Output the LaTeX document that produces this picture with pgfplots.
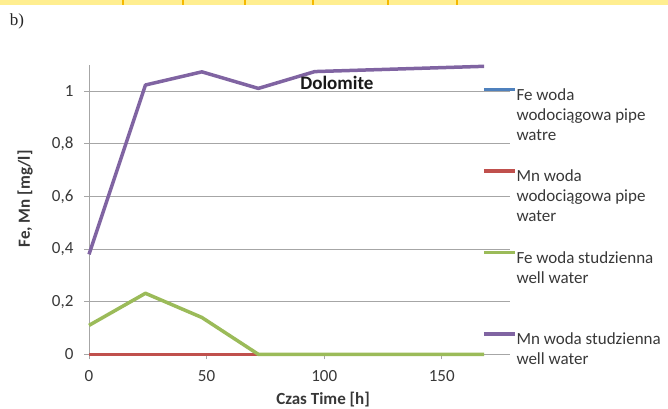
\documentclass[border=0pt]{standalone}
\usepackage{fontspec}
\setmainfont{Carlito}
\newfontfamily\timesfont{Liberation Serif}
\usepackage{pgfplots}
\pgfplotsset{compat=1.18}
\definecolor{xlblue}{HTML}{4F81BD}
\definecolor{xlred}{HTML}{C0504D}
\definecolor{xlgreen}{HTML}{9BBB59}
\definecolor{xlpurple}{HTML}{8064A2}
\definecolor{bandyellow}{HTML}{FFEE90}
\definecolor{bandorange}{HTML}{F5B800}
\definecolor{gridgray}{HTML}{A6A6A6}
\definecolor{txtgray}{HTML}{383838}
\begin{document}
\begin{tikzpicture}
\useasboundingbox (0pt,0pt) rectangle (668pt,-408pt);
\fill[bandyellow] (0pt,0pt) rectangle (668pt,-5pt);
\foreach \x in {123,183,245,313,388,457} \fill[bandorange] (\x pt-1pt,0pt) rectangle (\x pt+1pt,-5pt);
\node[font=\timesfont\fontsize{17}{20}\selectfont, text=black!85] at (17pt,-21pt) {b)};
\begin{axis}[
  scale only axis, width=421pt, height=289.3pt,
  at={(89pt,-354.3pt)}, anchor=south west,
  xmin=0, xmax=179, ymin=0, ymax=1.1,
  clip=false,
  axis lines=left,
  axis line style={-, gridgray, line width=1pt},
  xtick={0,50,100,150},
  ytick={0,0.2,0.4,0.6,0.8,1},
  ymajorgrids,
  grid style={gridgray, line width=0.9pt},
  tick align=outside, major tick length=5pt,
  tick style={gridgray, line width=0.9pt},
  /pgf/number format/assume math mode=true,
  yticklabel style={/pgf/number format/fixed, /pgf/number format/use comma, /pgf/number format/precision=1, /pgf/number format/assume math mode=true, xshift=-7pt},
  xticklabel style={yshift=-8pt},
  tick label style={font=\fontsize{17}{20}\selectfont, text=txtgray},
  xlabel={Czas Time [h]},
  ylabel={Fe, Mn [mg/l]},
  label style={font=\bfseries\fontsize{17}{20}\selectfont, text=txtgray},
  xlabel style={at={(axis description cs:0.556,-0.158)}, anchor=center},
  ylabel style={at={(axis description cs:-0.152,0.537)}, anchor=center, rotate=0},
  legend cell align=left,
  legend style={draw=none, fill=none, inner sep=0pt, outer sep=0pt,
    at={(axis description cs:0.9335,0.9206)}, anchor=north west,
    font=\fontsize{17}{20}\selectfont, text=txtgray,
    row sep=67.6pt, column sep=0pt,
    nodes={inner sep=0pt, xshift=-3pt}},
  legend image code/.code={\draw[#1] (0pt,5.5pt) -- (31pt,5.5pt);},
  every axis plot/.append style={line width=3.5pt, line join=round},
]
\addplot[xlblue] coordinates {(0,0) (24,0) (48,0) (72,0) (96,0) (168,0)};
\addplot[xlred] coordinates {(0,0) (24,0) (48,0) (72,0) (96,0) (168,0)};
\addplot[xlgreen] coordinates {(0,0.11) (24,0.232) (48,0.14) (72,0) (96,0) (168,0)};
\addplot[xlpurple] coordinates {(0,0.38) (24,1.024) (48,1.074) (72,1.011) (96,1.075) (168,1.095)};
\legend{
  \parbox[t]{152pt}{\raggedright Fe woda\\wodociągowa pipe\\watre\strut},
  \parbox[t]{152pt}{\raggedright Mn woda\\wodociągowa pipe\\water\strut},
  \parbox[t]{152pt}{\raggedright Fe woda studzienna\\well water\\\strut},
  \parbox[t]{152pt}{\raggedright Mn woda studzienna\\well water\\\strut}
}
\node[font=\bfseries\fontsize{19}{22}\selectfont, text=black!90] at (axis cs:105.4,1.033) {Dolomite};
\end{axis}
\end{tikzpicture}
\end{document}
